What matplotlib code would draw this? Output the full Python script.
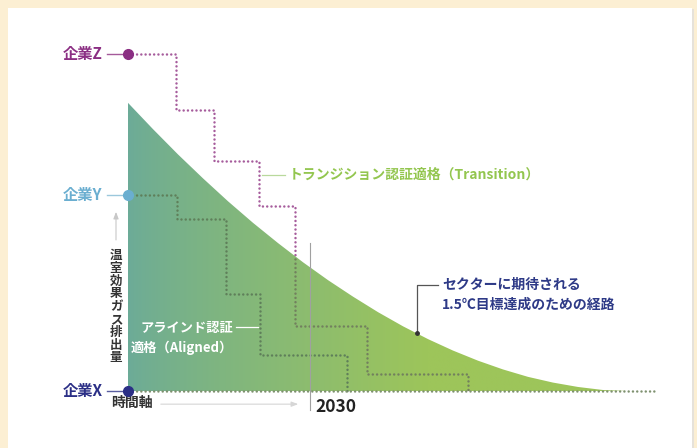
"""
Conceptual chart: transition / aligned certification vs 1.5C sector pathway.
Outputs: out.png
"""
import matplotlib
matplotlib.use('Agg')
import matplotlib.pyplot as plt
from matplotlib.patches import Rectangle, Polygon
import numpy as np

plt.rcParams['font.family'] = ['Noto Sans CJK JP', 'DejaVu Sans']

# ---- data (time in arbitrary units 0..100, emissions with company Z = 100) ----
time_pts = [0, 5, 10, 15, 20, 25, 30, 35, 40, 45, 50,
            55, 60, 65, 70, 75, 80, 85, 90, 95, 100]
pathway = [85.5, 77.7, 70.2, 63.1, 56.3, 49.9, 43.9, 38.2, 32.9, 28.0, 23.4,
           19.2, 15.4, 12.0, 9.0, 6.4, 4.2, 2.5, 1.2, 0.3, 0.0]

z_step_x = [0, 9.6, 17.2, 26.2, 33.4, 47.8, 68.0]
z_step_y = [100, 83.4, 68.2, 54.9, 19.3, 5.0, 0]
y_step_x = [0, 9.8, 19.6, 26.4, 43.8]
y_step_y = [58.2, 51.0, 28.8, 10.7, 0]

companies = ['企業Z', '企業Y', '企業X']
company_level = [100, 58.2, 0]
company_color = ['#8b2f83', '#6aaed0', '#2b2f86']
line_color = ['#a55a9a', '#9cc8dc', '#5a5ea0']

year_mark = 36.4
year_label = '2030'
axis_end = 105.4

fig = plt.figure(figsize=(6.97, 4.48), dpi=100)
fig.patch.set_facecolor('#fcefd3')

# card
fig.patches.append(Rectangle((10 / 697, -0.05), 684 / 697, 1.05 - 9 / 448,
                             transform=fig.transFigure, facecolor='#e6e2da',
                             edgecolor='none', zorder=-2))
fig.patches.append(Rectangle((8 / 697, -0.05), 684 / 697, 1.05 - 8 / 448,
                             transform=fig.transFigure, facecolor='white',
                             edgecolor='none', zorder=-1))

ax = fig.add_axes([0, 0, 1, 1])
ax.axis('off')

dots = dict(linestyle=(0, (0.01, 1.7)), lw=1.8, dash_capstyle='round')

# purple Z path (outside the fill)
ax.step(z_step_x, z_step_y, where='post', color='#a65c9c', zorder=1, **dots)

# gradient fill under the pathway
poly = Polygon(list(zip(time_pts, pathway)) + [(time_pts[-1], 0), (0, 0)],
               closed=True, facecolor='none', edgecolor='none')
ax.add_patch(poly)
xs = np.linspace(0, 1, 256)
c0 = np.array([0x6c, 0xab, 0x98]) / 255
c1 = np.array([0x9d, 0xc5, 0x5a]) / 255
w = np.clip(xs / 0.6, 0, 1) ** 0.8
grad = (c0[None, :] * (1 - w[:, None]) + c1[None, :] * w[:, None])[None, :, :]
im = ax.imshow(grad, extent=[0, 100, 0, 86], aspect='auto', zorder=2,
               interpolation='bilinear')
im.set_clip_path(poly)

# Z path inside the fill, darker
zin = ax.step(z_step_x, z_step_y, where='post', color='#72805e', zorder=3, **dots)
zin[0].set_clip_path(poly)
# Y path
ax.step(y_step_x, y_step_y, where='post', color='#5f7f5a', zorder=3, **dots)
# baseline
ax.plot([0, axis_end], [0, 0], color='#7f9170', zorder=3, **dots)

# company markers and labels
for name, lvl, col, lc in zip(companies, company_level, company_color, line_color):
    ax.plot([-4.3, -0.8], [lvl, lvl], color=lc, lw=1.0, zorder=4)
    ax.plot(0, lvl, 'o', ms=7, color=col, zorder=5)
    ax.text(-5.1, lvl, name, ha='right', va='center', fontsize=11,
            fontweight='bold', color=col, zorder=5)

# vertical axis label (vertical writing)
ax.annotate('', xy=(-2.4, 54.0), xytext=(-2.4, 44.0),
            arrowprops=dict(arrowstyle='-|>,head_width=0.15,head_length=0.4',
                            color='#c8c8c8', lw=0.8))
ax.text(-2.4, 25.0, '\n'.join('温室効果ガス排出量'), ha='center', va='center',
        fontsize=9, fontweight='bold', color='#333333', linespacing=0.98)

# time axis
ax.text(-3.4, -3.6, '時間軸', ha='left', va='center', fontsize=10,
        fontweight='bold', color='#333333')
ax.annotate('', xy=(34.6, -3.9), xytext=(6.0, -3.9),
            arrowprops=dict(arrowstyle='-|>,head_width=0.15,head_length=0.4',
                            color='#d6d6d6', lw=0.8))
ax.plot([year_mark, year_mark], [-5.6, 43.9], color='#a0a0a0', lw=0.8, zorder=4)
ax.text(year_mark + 1.0, -4.6, year_label, ha='left', va='center', fontsize=12.5,
        fontweight='bold', color='#222222', family=['Noto Sans CJK JP', 'DejaVu Sans'])

# transition annotation
ax.plot([26.8, 31.4], [64.1, 64.1], color='#b9d99c', lw=0.9, zorder=4)
ax.text(32.2, 64.1, 'トランジション認証適格（Transition）', ha='left', va='center',
        fontsize=10, fontweight='bold', color='#93c64f', zorder=5)

# aligned annotation
ax.plot([21.6, 26.0], [19.0, 19.0], color='white', lw=0.9, zorder=4)
ax.text(21.0, 18.8, 'アラインド認証', ha='right', va='center', fontsize=9.5,
        fontweight='bold', color='white', zorder=5)
ax.text(21.0, 12.9, '適格（Aligned）', ha='right', va='center', fontsize=9.5,
        fontweight='bold', color='white', zorder=5)

# pathway annotation
ax.plot([57.8, 57.8, 62.0], [17.2, 31.5, 31.5], color='#555555', lw=0.9, zorder=4)
ax.plot(57.8, 17.2, 'o', ms=2.5, color='#333333', zorder=5)
ax.text(62.8, 31.5, 'セクターに期待される', ha='left', va='center', fontsize=10,
        fontweight='bold', color='#2e3a87', zorder=5)
ax.text(62.8, 25.5, '1.5℃目標達成のための経路', ha='left', va='center', fontsize=10,
        fontweight='bold', color='#2e3a87', zorder=5)

ax.set_xlim(-25.6, 113.8)
ax.set_ylim(-16.91, 116.02)

fig.savefig('out.png', dpi=100, facecolor=fig.get_facecolor())
